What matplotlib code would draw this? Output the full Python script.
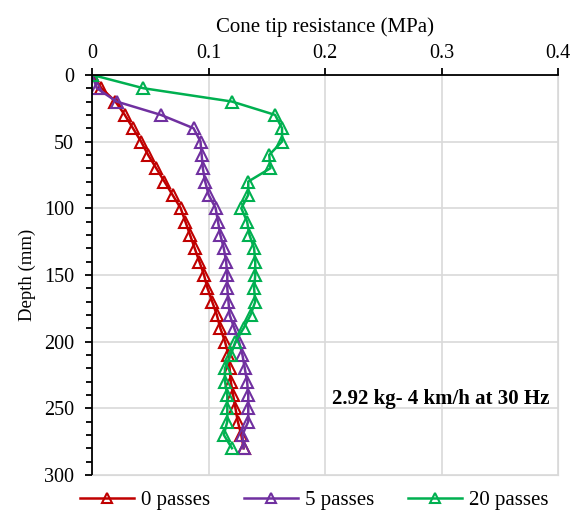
import matplotlib.pyplot as plt
from matplotlib.ticker import MultipleLocator

plt.rcParams['font.family'] = ['Liberation Serif', 'DejaVu Serif']

# Profundidad (mm)
depth = [0, 10, 20, 30, 40, 50, 60, 70, 80, 90, 100, 110, 120, 130, 140,
         150, 160, 170, 180, 190, 200, 210, 220, 230, 240, 250, 260, 270, 280]

# Resistencia de punta (MPa)
q0 = [0, 0.008, 0.020, 0.028, 0.035, 0.042, 0.048, 0.055, 0.062, 0.069, 0.076,
      0.080, 0.084, 0.088, 0.092, 0.096, 0.099, 0.103, 0.107, 0.110, 0.114,
      0.117, 0.118, 0.119, 0.121, 0.123, 0.125, 0.128, 0.130]
q5 = [0, 0.004, 0.021, 0.059, 0.087, 0.093, 0.094, 0.095, 0.097, 0.100, 0.106,
      0.108, 0.110, 0.113, 0.115, 0.116, 0.116, 0.117, 0.118, 0.122, 0.126,
      0.129, 0.131, 0.133, 0.134, 0.134, 0.134, 0.129, 0.130]
q20 = [0, 0.044, 0.120, 0.157, 0.163, 0.163, 0.152, 0.153, 0.134, 0.134, 0.128,
       0.133, 0.135, 0.139, 0.140, 0.140, 0.139, 0.140, 0.136, 0.130, 0.123,
       0.119, 0.114, 0.114, 0.116, 0.116, 0.116, 0.113, 0.120]

fig = plt.figure(figsize=(5.76, 5.19), dpi=100)
ax = fig.add_axes([0.16, 0.085, 0.809, 0.7707])

estilo = dict(marker='^', markersize=9, markerfacecolor='none',
              markeredgewidth=1.5, linewidth=1.8)
ax.plot(q0, depth, color='#C00000', label='0 passes', **estilo)
ax.plot(q5, depth, color='#7030A0', label='5 passes', **estilo)
ax.plot(q20, depth, color='#00B050', label='20 passes', **estilo)

ax.set_xlim(0, 0.4)
ax.set_ylim(300, 0)
ax.xaxis.tick_top()
ax.xaxis.set_label_position('top')
ax.set_xticks([0, 0.1, 0.2, 0.3, 0.4])
ax.set_xticklabels(['0', '0.1', '0.2', '0.3', '0.4'])
ax.yaxis.set_major_locator(MultipleLocator(50))
ax.yaxis.set_minor_locator(MultipleLocator(10))
ax.tick_params(axis='both', labelsize=14.5, direction='out', width=1.3, length=5)
ax.tick_params(axis='y', pad=8)
ax.tick_params(axis='y', which='minor', direction='out', width=1.3, length=4)
ax.set_xlabel('Cone tip resistance (MPa)', fontsize=15, labelpad=9)
ax.set_ylabel('Depth (mm)', fontsize=13.5, labelpad=6)
ax.grid(True, color='#D9D9D9', linewidth=1.2)
ax.set_axisbelow(True)
for s in ['right', 'bottom']:
    ax.spines[s].set_color('#D9D9D9')
for s in ['top', 'left']:
    ax.spines[s].set_linewidth(1.3)

ax.text(0.393, 243, '2.92 kg- 4 km/h at 30 Hz', fontsize=15,
        fontweight='bold', ha='right', va='center')

ax.legend(loc='upper center', bbox_to_anchor=(0.477, 0.008), ncol=3,
          frameon=False, fontsize=15, handlelength=2.6, handletextpad=0.35,
          columnspacing=1.6, markerscale=0.8)

plt.savefig('out.png')
